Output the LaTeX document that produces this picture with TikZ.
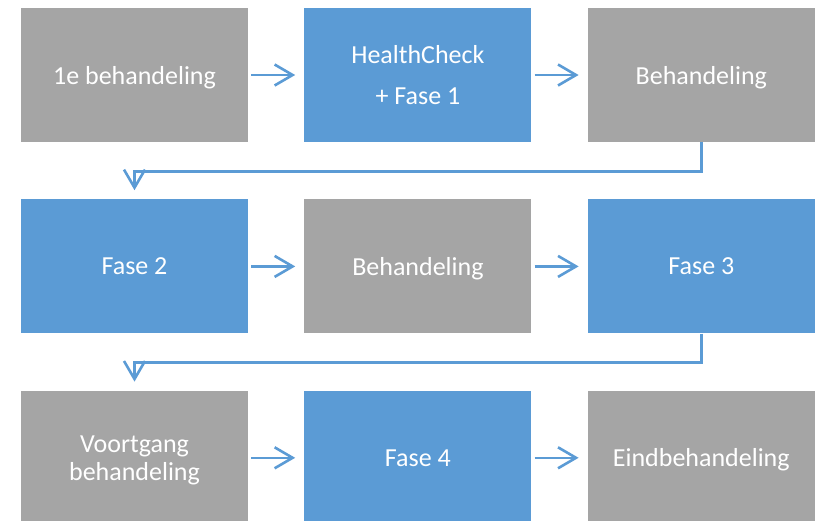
\documentclass[tikz,border=0pt]{standalone}
\usepackage{fontspec}
\setmainfont{Carlito}
\usepackage{tikz}
\usetikzlibrary{arrows.meta}
\usetikzlibrary{positioning}
\definecolor{grijs}{HTML}{A5A5A5}
\definecolor{blauw}{HTML}{5B9BD5}

\begin{document}
\begin{tikzpicture}[x=1pt,y=1pt,
  box/.style={rectangle,minimum width=227pt,minimum height=134pt,inner sep=0pt,
    text depth=0pt,text=white,align=center,font=\fontsize{26}{28}\selectfont},
  grijsbox/.style={box,fill=grijs},
  blauwbox/.style={box,fill=blauw},
  pijl/.style={draw=blauw,line width=2.6pt,-{Straight Barb[length=18pt,width=21pt]}}]
\clip (0,0) rectangle (816,-520);
\fill[white] (0,0) rectangle (816,-520);
% rij 1
\node[grijsbox](a1) at (134.5,-75){1e behandeling};
\node[blauwbox,right=56pt of a1](b1){HealthCheck\\[13pt]+ Fase 1};
\node[grijsbox,right=56pt of b1](c1){Behandeling};
% rij 2
\node[blauwbox,below=57pt of a1](a2){Fase 2};
\node[grijsbox,right=56pt of a2](b2){Behandeling};
\node[blauwbox,right=56pt of b2](c2){Fase 3};
% rij 3
\node[grijsbox,below=57pt of a2](a3){Voortgang\\behandeling};
\node[blauwbox,right=56pt of a3](b3){Fase 4};
\node[grijsbox,right=56pt of b3](c3){Eindbehandeling};
% pijlen
\draw[pijl]([xshift=3pt]a1.east) -- ([xshift=-9pt]b1.west);
\draw[pijl]([xshift=3pt]b1.east) -- ([xshift=-9pt]c1.west);
\draw[pijl](c1.south) -- ++(0,-29) -| ([yshift=9pt]a2.north);
\draw[pijl]([xshift=3pt]a2.east) -- ([xshift=-9pt]b2.west);
\draw[pijl]([xshift=3pt]b2.east) -- ([xshift=-9pt]c2.west);
\draw[pijl](c2.south) -- ++(0,-29) -| ([yshift=9pt]a3.north);
\draw[pijl]([xshift=3pt]a3.east) -- ([xshift=-9pt]b3.west);
\draw[pijl]([xshift=3pt]b3.east) -- ([xshift=-9pt]c3.west);
\end{tikzpicture}
\end{document}
